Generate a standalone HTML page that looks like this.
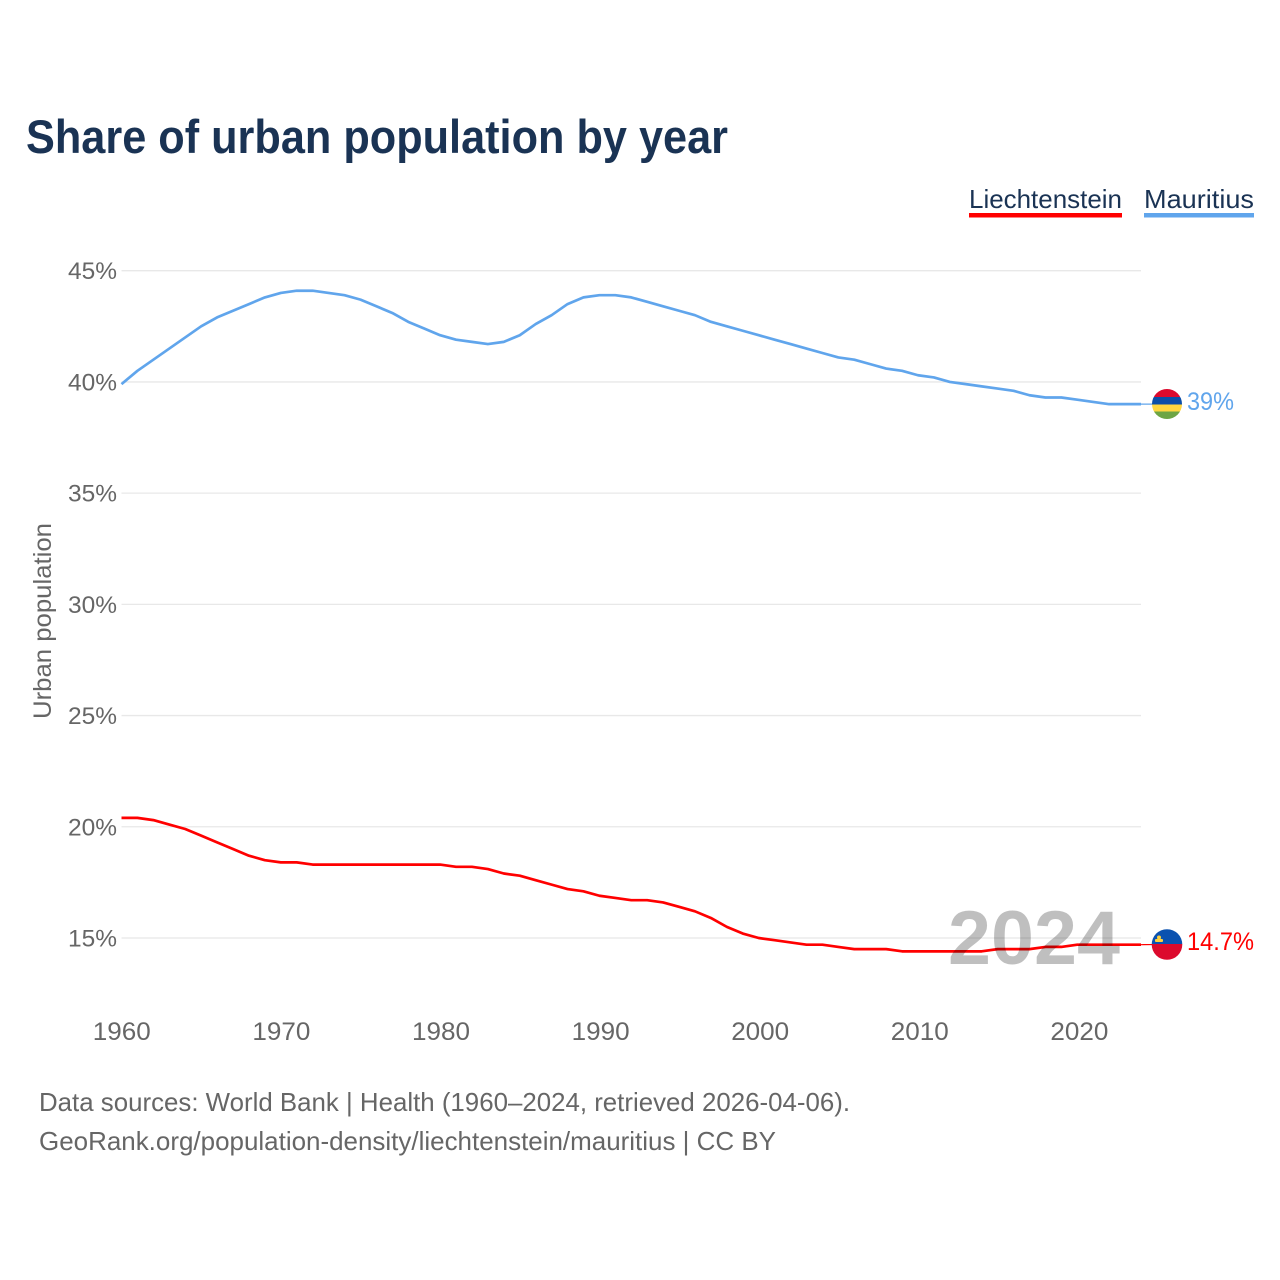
<!DOCTYPE html>
<html lang="en">
<head>
<meta charset="utf-8">
<title>Share of urban population by year</title>
<style>
html,body{margin:0;padding:0;background:#fff;width:1280px;height:1280px;overflow:hidden}
svg{display:block}
text{font-family:"Liberation Sans",sans-serif}
</style>
</head>
<body>
<svg id="chart" width="1280" height="1280" viewBox="0 0 1280 1280" xmlns="http://www.w3.org/2000/svg">
  <rect x="0" y="0" width="1280" height="1280" fill="#fff"/>
  <text x="26" y="153" font-size="47" font-weight="700" fill="#1a3354" textLength="702" lengthAdjust="spacingAndGlyphs">Share of urban population by year</text>

  <g>
    <text x="969" y="208" font-size="26" fill="#1a3354" textLength="153" lengthAdjust="spacingAndGlyphs">Liechtenstein</text>
    <rect x="969" y="213" width="153" height="4.5" fill="#ff0000"/>
  </g>
  <g>
    <text x="1144" y="208" font-size="26" fill="#1a3354" textLength="110" lengthAdjust="spacingAndGlyphs">Mauritius</text>
    <rect x="1144" y="213" width="110" height="4.5" fill="#60a5ec"/>
  </g>

  <g id="grid"></g>
  <g id="yticks"></g>
  <g id="xticks"></g>
  <text transform="translate(51,621) rotate(-90)" text-anchor="middle" font-size="25" fill="#666" textLength="196" lengthAdjust="spacingAndGlyphs">Urban population</text>

  <g id="series"></g>

  <text x="948" y="964" font-size="76" font-weight="700" fill="#000" fill-opacity="0.25" textLength="172" lengthAdjust="spacingAndGlyphs">2024</text>

  <g>
    <clipPath id="clip-mu"><circle cx="1167" cy="404" r="15"/></clipPath>
    <g clip-path="url(#clip-mu)">
      <rect x="1152" y="389" width="30" height="8" fill="#dc0a2d"/>
      <rect x="1152" y="397" width="30" height="7.5" fill="#0b4ea8"/>
      <rect x="1152" y="404.5" width="30" height="7" fill="#ffd640"/>
      <rect x="1152" y="411.5" width="30" height="7.5" fill="#6da544"/>
    </g>
  </g>
  <text id="label-mu" x="1187" y="410" font-size="25" fill="#60a5ec" textLength="47" lengthAdjust="spacingAndGlyphs"></text>

  <g>
    <clipPath id="clip-li"><circle cx="1167" cy="944.5" r="15.3"/></clipPath>
    <g clip-path="url(#clip-li)">
      <rect x="1151" y="929" width="32" height="15" fill="#0b52b0"/>
      <rect x="1151" y="944" width="32" height="16" fill="#dc0a2d"/>
    </g>
    <rect x="1155" y="939" width="8" height="3" rx="1" fill="#ffd23f"/>
    <circle cx="1159" cy="937.5" r="2" fill="#ffd23f"/>
  </g>
  <text id="label-li" x="1187" y="950" font-size="25" fill="#ff0000" textLength="67" lengthAdjust="spacingAndGlyphs"></text>

  <text x="39" y="1111" font-size="26" fill="#666" textLength="811" lengthAdjust="spacingAndGlyphs">Data sources: World Bank | Health (1960–2024, retrieved 2026-04-06).</text>
  <text x="39" y="1150" font-size="26" fill="#666" textLength="737" lengthAdjust="spacingAndGlyphs">GeoRank.org/population-density/liechtenstein/mauritius | CC BY</text>
</svg>
<script>
const years = [1960,1961,1962,1963,1964,1965,1966,1967,1968,1969,1970,1971,1972,1973,1974,1975,1976,1977,1978,1979,1980,1981,1982,1983,1984,1985,1986,1987,1988,1989,1990,1991,1992,1993,1994,1995,1996,1997,1998,1999,2000,2001,2002,2003,2004,2005,2006,2007,2008,2009,2010,2011,2012,2013,2014,2015,2016,2017,2018,2019,2020,2021,2022,2023,2024];
const mauritius = [39.9,40.5,41.0,41.5,42.0,42.5,42.9,43.2,43.5,43.8,44.0,44.1,44.1,44.0,43.9,43.7,43.4,43.1,42.7,42.4,42.1,41.9,41.8,41.7,41.8,42.1,42.6,43.0,43.5,43.8,43.9,43.9,43.8,43.6,43.4,43.2,43.0,42.7,42.5,42.3,42.1,41.9,41.7,41.5,41.3,41.1,41.0,40.8,40.6,40.5,40.3,40.2,40.0,39.9,39.8,39.7,39.6,39.4,39.3,39.3,39.2,39.1,39.0,39.0,39.0];
const liechtenstein = [20.4,20.4,20.3,20.1,19.9,19.6,19.3,19.0,18.7,18.5,18.4,18.4,18.3,18.3,18.3,18.3,18.3,18.3,18.3,18.3,18.3,18.2,18.2,18.1,17.9,17.8,17.6,17.4,17.2,17.1,16.9,16.8,16.7,16.7,16.6,16.4,16.2,15.9,15.5,15.2,15.0,14.9,14.8,14.7,14.7,14.6,14.5,14.5,14.5,14.4,14.4,14.4,14.4,14.4,14.4,14.5,14.5,14.5,14.6,14.6,14.7,14.7,14.7,14.7,14.7];
const yTicks = [15,20,25,30,35,40,45];
const xTicks = [1960,1970,1980,1990,2000,2010,2020];
const endLabelMauritius = "39%";
const endLabelLiechtenstein = "14.7%";

const NS = "http://www.w3.org/2000/svg";
const xLeft = 121.5, xRight = 1141, yearMin = 1960, yearMax = 2024;
const yBottom = 938, yTop = 270.7, valMin = 15, valMax = 45;
function xScale(year){ return xLeft + (year - yearMin) * (xRight - xLeft) / (yearMax - yearMin); }
function yScale(v){ return yBottom - (v - valMin) * (yBottom - yTop) / (valMax - valMin); }
function make(tag, parent, attrs){
  const el = document.createElementNS(NS, tag);
  for (const k in attrs) el.setAttribute(k, attrs[k]);
  parent.appendChild(el);
  return el;
}

const gridG = document.getElementById('grid');
const yG = document.getElementById('yticks');
const xG = document.getElementById('xticks');
const seriesG = document.getElementById('series');

yTicks.forEach(function(t){
  const line = make('line', gridG, {x1:xLeft, x2:xRight, y1:yScale(t), y2:yScale(t), stroke:'#e8e8e8', 'stroke-width':1.3});
  
  
  const label = make('text', yG, {x:117, y:yScale(t)+8.5, 'text-anchor':'end', 'font-size':24, fill:'#666', textLength:49, lengthAdjust:'spacingAndGlyphs'});
  label.textContent = t + '%';
  
  
});

xTicks.forEach(function(t){
  const label = make('text', xG, {x:xScale(t)+0.03*(t-yearMin)+0.3, y:1040, 'text-anchor':'middle', 'font-size':25, fill:'#666', textLength:58, lengthAdjust:'spacingAndGlyphs'});
  label.textContent = String(t);
  
  
});

function drawSeries(values, color, flagY, name){
  const pts = values.map(function(v, i){ return xScale(years[i]).toFixed(2) + ',' + yScale(v).toFixed(2); }).join(' ');
  const line = make('polyline', seriesG, {points:pts, fill:'none', stroke:color, 'stroke-width':2.7, 'stroke-linejoin':'round'});
  
  
  const last = values[values.length - 1];
  const conn = make('line', seriesG, {x1:xRight, x2:1153, y1:yScale(last), y2:yScale(last)+(flagY-yScale(last))*0.15, stroke:color, 'stroke-width':1.2});
  
  
}
drawSeries(mauritius, '#60a5ec', 404, 'line-mauritius');
drawSeries(liechtenstein, '#ff0000', 944, 'line-liechtenstein');

document.getElementById('label-mu').textContent = endLabelMauritius;
document.getElementById('label-li').textContent = endLabelLiechtenstein;
</script>
</body>
</html>
